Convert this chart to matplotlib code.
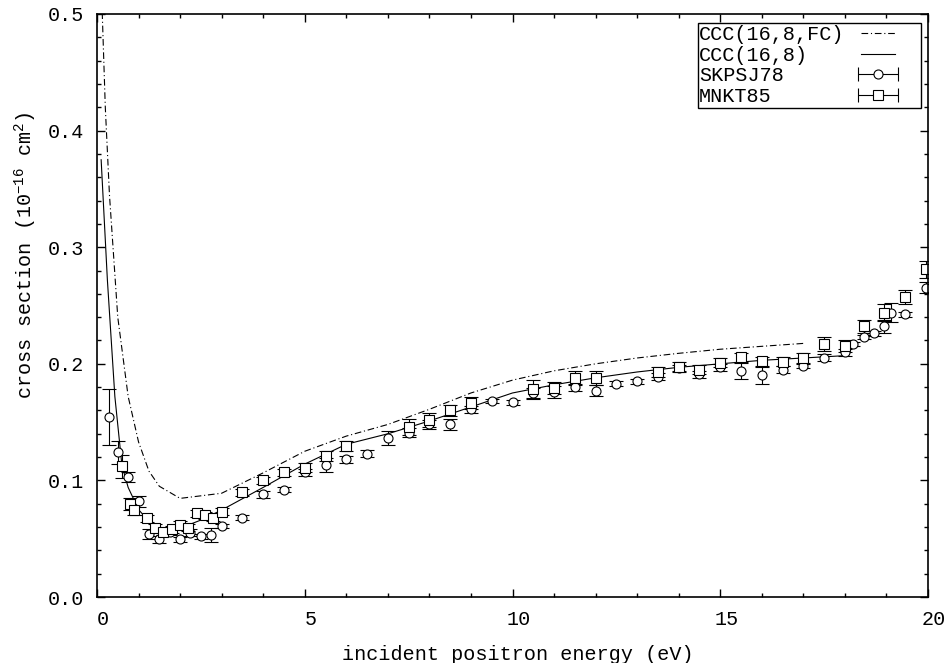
import numpy as np
import matplotlib
matplotlib.use("Agg")
import matplotlib.pyplot as plt
import matplotlib.transforms as mtransforms
from matplotlib.legend_handler import HandlerErrorbar
from matplotlib.patches import Rectangle
from matplotlib.container import ErrorbarContainer

plt.rcParams['font.family'] = ['Liberation Mono', 'DejaVu Sans Mono']
plt.rcParams['mathtext.fontset'] = 'custom'
plt.rcParams['mathtext.rm'] = 'Liberation Mono'
plt.rcParams['mathtext.it'] = 'Liberation Mono'
plt.rcParams['mathtext.bf'] = 'Liberation Mono'

# CCC(16,8,FC) - dash-dot curve
e_fc = [0.1, 0.2, 0.3, 0.5, 0.75, 1.0, 1.25, 1.5, 2.0, 3.0, 4.0, 5.0, 6.0, 7.0,
        8.0, 9.0, 10.0, 11.0, 12.0, 13.0, 14.0, 15.0, 16.0, 17.0]
s_fc = [0.53, 0.42, 0.345, 0.24, 0.172, 0.133, 0.108, 0.095, 0.0846, 0.089,
        0.1065, 0.125, 0.138, 0.148, 0.161, 0.175, 0.186, 0.194, 0.200, 0.205,
        0.209, 0.2125, 0.215, 0.2175]

# CCC(16,8) - solid curve
e_ccc = [0.1, 0.25, 0.43, 0.6, 0.75, 1.0, 1.25, 1.5, 2.0, 2.5, 3.0, 4.0, 5.0,
         6.0, 7.0, 8.0, 9.0, 10.0, 11.0, 12.0, 13.0, 14.0, 15.0, 16.0, 17.0, 18.0]
s_ccc = [0.375, 0.272, 0.172, 0.113, 0.094, 0.075, 0.065, 0.059, 0.059, 0.066,
         0.0746, 0.094, 0.114, 0.131, 0.140, 0.151, 0.163, 0.175, 0.182, 0.188,
         0.193, 0.197, 0.200, 0.203, 0.205, 0.207]

# SKPSJ78 (circles)
e_sk = [0.3, 0.5, 0.75, 1.0, 1.25, 1.5, 1.75, 2.0, 2.25, 2.5, 2.75, 3.0, 3.5,
        4.0, 4.5, 5.0, 5.5, 6.0, 6.5, 7.0, 7.5, 8.0, 8.5, 9.0, 9.5, 10.0, 10.5,
        11.0, 11.5, 12.0, 12.5, 13.0, 13.5, 14.0, 14.5, 15.0, 15.5, 16.0, 16.5,
        17.0, 17.5, 18.0, 18.2, 18.45, 18.7, 18.95, 19.1, 19.45, 19.95]
s_sk = [0.154, 0.124, 0.103, 0.082, 0.054, 0.0495, 0.056, 0.0495, 0.055, 0.052,
        0.053, 0.061, 0.068, 0.088, 0.092, 0.107, 0.113, 0.118, 0.123, 0.136,
        0.141, 0.148, 0.148, 0.161, 0.168, 0.167, 0.175, 0.176, 0.180, 0.177,
        0.183, 0.185, 0.189, 0.196, 0.191, 0.197, 0.194, 0.190, 0.195, 0.198,
        0.205, 0.210, 0.217, 0.223, 0.226, 0.232, 0.244, 0.2425, 0.2653]
d_sk = [0.024, 0.010, 0.004, 0.005, 0.004, 0.003, 0.003, 0.002, 0.003, 0.002,
        0.006, 0.002, 0.002, 0.003, 0.002, 0.003, 0.006, 0.003, 0.003, 0.006,
        0.004, 0.004, 0.005, 0.003, 0.002, 0.002, 0.004, 0.005, 0.003, 0.005,
        0.002, 0.002, 0.003, 0.003, 0.003, 0.003, 0.007, 0.007, 0.003, 0.002,
        0.003, 0.003, 0.002, 0.002, 0.002, 0.006, 0.008, 0.002, 0.005]

# MNKT85 (squares)
e_mn = [0.6, 0.8, 0.9, 1.2, 1.4, 1.6, 1.8, 2.0, 2.2, 2.4, 2.6, 2.8, 3.0, 3.5,
        4.0, 4.5, 5.0, 5.5, 6.0, 7.5, 8.0, 8.5, 9.0, 10.5, 11.0, 11.5, 12.0,
        13.5, 14.0, 14.5, 15.0, 15.5, 16.0, 16.5, 17.0, 17.5, 18.0, 18.45,
        18.95, 19.45, 19.95]
s_mn = [0.112, 0.080, 0.0746, 0.0675, 0.0595, 0.056, 0.058, 0.062, 0.0595,
        0.072, 0.070, 0.068, 0.073, 0.090, 0.100, 0.107, 0.111, 0.121, 0.1295,
        0.146, 0.152, 0.160, 0.1665, 0.178, 0.179, 0.188, 0.188, 0.193, 0.1975,
        0.195, 0.201, 0.2055, 0.202, 0.2018, 0.205, 0.2167, 0.2153, 0.232,
        0.244, 0.2576, 0.281]
d_mn = [0.010, 0.005, 0.004, 0.003, 0.003, 0.003, 0.003, 0.003, 0.003, 0.003,
        0.003, 0.003, 0.003, 0.003, 0.003, 0.003, 0.004, 0.004, 0.004, 0.007,
        0.006, 0.005, 0.005, 0.008, 0.005, 0.006, 0.006, 0.004, 0.004, 0.004,
        0.004, 0.004, 0.004, 0.004, 0.004, 0.006, 0.005, 0.006, 0.007, 0.006,
        0.007]

names = ['CCC(16,8,FC)', 'CCC(16,8)', 'SKPSJ78', 'MNKT85']

fs = 14.5
fig = plt.figure(figsize=(9.49, 6.63), dpi=100)
ax = fig.add_axes([0.1022, 0.0995, 0.8757, 0.8794])

lw = 0.8
dd = (6, 2.5, 1, 2.5)
cap = 5
ax.plot(e_fc, s_fc, color='black', lw=lw, dashes=dd)
ax.plot(e_ccc, s_ccc, color='black', lw=lw)

ms = 6.5
ax.errorbar(e_sk, s_sk, yerr=d_sk, fmt='o', ms=ms, mfc='white', mec='black',
            mew=lw, ecolor='black', elinewidth=lw, capsize=cap, capthick=lw)
ax.errorbar(e_mn, s_mn, yerr=d_mn, fmt='s', ms=ms, mfc='white', mec='black',
            mew=lw, ecolor='black', elinewidth=lw, capsize=cap, capthick=lw)

ax.set_xlim(0, 20)
ax.set_ylim(0, 0.5)
ax.set_xticks([0, 5, 10, 15, 20])
ax.set_xticks(np.arange(0, 21, 1), minor=True)
ax.set_yticks(np.arange(0, 0.51, 0.1))
ax.set_yticks(np.arange(0, 0.51, 0.02), minor=True)
ax.set_yticklabels(['0.0', '0.1', '0.2', '0.3', '0.4', '0.5'])
ax.tick_params(which='both', direction='in', top=True, right=True,
               labelsize=fs, width=1)
ax.tick_params(which='major', length=6)
ax.tick_params(which='minor', length=3)
ax.tick_params(axis='x', pad=9)
ax.tick_params(axis='y', pad=9)
for sp in ax.spines.values():
    sp.set_linewidth(1.2)

off = mtransforms.ScaledTranslation(6 / 100, 0, fig.dpi_scale_trans)
for lab in ax.get_xticklabels():
    lab.set_transform(lab.get_transform() + off)

ax.set_xlabel('incident positron energy (eV)', fontsize=fs)
ax.set_ylabel('cross section (10$^{-16}$ cm$^{2}$)', fontsize=fs)
ax.xaxis.set_label_coords(0.506, -0.082)
ax.yaxis.set_label_coords(-0.0698, 0.587)

# legend proxies (horizontal error bar sample like gnuplot)
h_fc, = ax.plot([], [], color='black', lw=lw, dashes=dd)
h_ccc, = ax.plot([], [], color='black', lw=lw)
h_sk = ax.errorbar([np.nan], [np.nan], xerr=[0.1], fmt='o', ms=ms, mfc='white',
                   mec='black', mew=lw, ecolor='black', elinewidth=lw,
                   capsize=cap, capthick=lw)
h_mn = ax.errorbar([np.nan], [np.nan], xerr=[0.1], fmt='s', ms=ms, mfc='white',
                   mec='black', mew=lw, ecolor='black', elinewidth=lw,
                   capsize=cap, capthick=lw)
leg = ax.legend([h_fc, h_ccc, h_sk, h_mn], names,
                loc='upper left', bbox_to_anchor=(0.724, 0.981),
                frameon=False, markerfirst=False, fontsize=fs,
                borderpad=0, borderaxespad=0, labelspacing=0.08,
                handlelength=1.65, handletextpad=0.85,
                handler_map={ErrorbarContainer: HandlerErrorbar(xerr_size=1.0)})
# legend text is right-aligned with markerfirst=False; shift the shorter
# labels left so all start at the same x (monospace: 0.6 em per char)
width = max(len(n) for n in names)
for t in leg.get_texts():
    dx = (width - len(t.get_text())) * 0.6 * fs / 72
    t.set_transform(t.get_transform() +
                    mtransforms.ScaledTranslation(-dx, 0, fig.dpi_scale_trans))
ax.add_patch(Rectangle((0.723, 0.839), 0.2686, 0.146, transform=ax.transAxes,
                       fill=False, lw=1.0, ec='black', zorder=5))

fig.savefig('out.png', dpi=100)
